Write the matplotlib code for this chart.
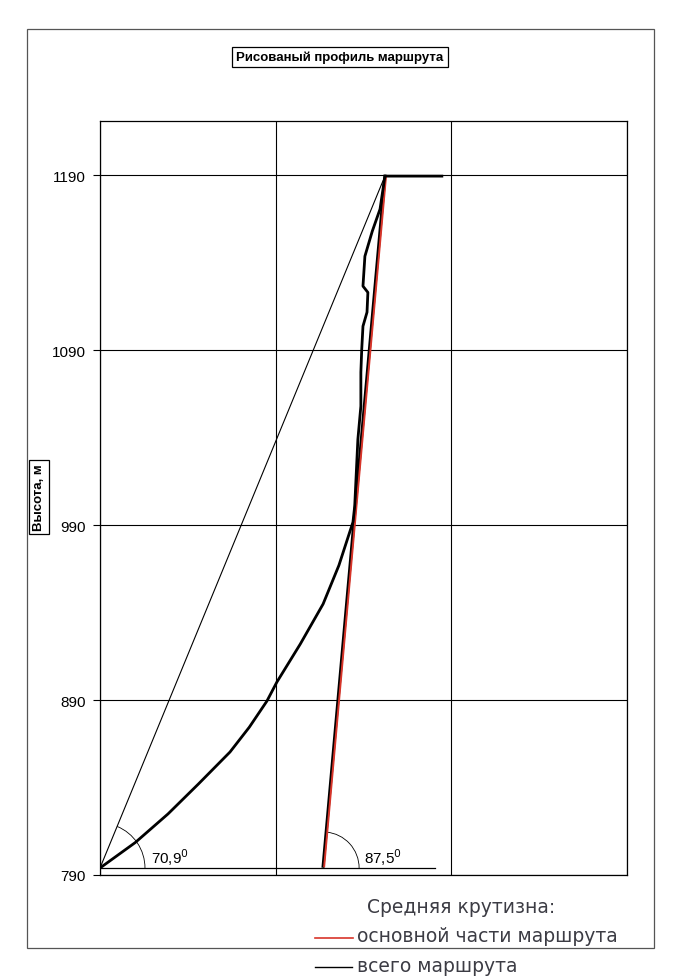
import numpy as np
import matplotlib
matplotlib.use('Agg')
import matplotlib.pyplot as plt
from matplotlib.patches import Arc, Rectangle
from matplotlib import transforms

plt.rcParams['font.family'] = ['Liberation Sans', 'DejaVu Sans']

# профиль маршрута (расстояние, м ; высота, м)
route_x = [0, 20, 38.7, 56, 74, 85, 95, 100.7, 114, 127, 136, 144, 145, 146.8, 148.5,
           148.5, 149, 149.7, 152, 152.5, 149.7, 150.8, 155, 159.4, 162.2, 194.6]
route_y = [794, 808.5, 824.9, 842, 860.3, 874.5, 889.4, 900.3, 922, 944.9, 967, 991.7,
           1000.9, 1039, 1058, 1077.4, 1090.6, 1103.7, 1111.7, 1123, 1126.6, 1143.7,
           1158, 1170.6, 1189.5, 1189.5]

# средняя крутизна
whole_x = [0, 162.2]
whole_y = [794, 1189.5]
main_x = [127, 162.2]
main_y = [795, 1189.5]
base_x = [0, 190.7]
base_y = [794, 794]

angles = ['70,9', '87,5']
yticks = [790, 890, 990, 1090, 1190]

fig = plt.figure(figsize=(6.73, 9.79), dpi=100)
ax = fig.add_axes([100/673, 1-876/979, 527/673, 754/979])

ax.plot(base_x, base_y, color='black', lw=0.9)
ax.plot(whole_x, whole_y, color='black', lw=0.8)
ax.plot(main_x, main_y, color='black', lw=2.2)
red_tr = transforms.offset_copy(ax.transData, fig=fig, x=0.8, y=0, units='points')
ax.plot(main_x, main_y, color='#d8352a', lw=1.4, transform=red_tr)
ax.plot(route_x, route_y, color='black', lw=2.0, solid_joinstyle='round')

# дуги углов
a1 = np.degrees(np.arctan2((whole_y[1]-whole_y[0])*1.75, (whole_x[1]-whole_x[0])*1.757))
a2 = np.degrees(np.arctan2((main_y[1]-main_y[0])*1.75, (main_x[1]-main_x[0])*1.757))
ax.add_patch(Arc((whole_x[0], base_y[0]), 2*25.6, 2*25.7, theta1=0, theta2=a1,
                 color='black', lw=0.6))
ax.add_patch(Arc((main_x[0], base_y[0]), 2*20.5, 2*20.6, theta1=0, theta2=a2,
                 color='black', lw=0.6))
ax.text(29, 797, angles[0] + '$^0$', fontsize=11)
ax.text(150, 797, angles[1] + '$^0$', fontsize=11)

ax.set_xlim(0, 300)
ax.set_ylim(790, 1221)
ax.set_xticks([0, 100, 200, 300])
ax.set_xticklabels([])
ax.tick_params(axis='x', length=0)
ax.set_yticks(yticks)
ax.tick_params(axis='y', labelsize=11, length=5, width=0.8, pad=5)
ax.grid(True, color='black', lw=0.8)
ax.set_axisbelow(True)
for s in ax.spines.values():
    s.set_linewidth(0.9)

# заголовок и подпись оси в рамках
fig.text(340/673, 1-58/979, 'Рисованый профиль маршрута', ha='center', va='center',
         fontsize=9.5, fontweight='bold',
         bbox=dict(boxstyle='square,pad=0.3', fc='white', ec='black', lw=0.9))
fig.text(39/673, 1-498/979, 'Высота, м', ha='center', va='center', rotation=90,
         fontsize=9.5, fontweight='bold',
         bbox=dict(boxstyle='square,pad=0.3', fc='white', ec='black', lw=0.9))

# внешняя рамка
fig.patches.append(Rectangle((27/673, 1-949/979), 627/673, 919/979, transform=fig.transFigure,
                             fill=False, ec='#555555', lw=0.9))

# подписи от руки
ink = '#3c3c44'
fig.text(367/673, 1-908/979, 'Средняя крутизна:', fontsize=13.5, color=ink,
         family='DejaVu Sans', va='center')
fig.text(357/673, 1-937/979, 'основной части маршрута', fontsize=13.5, color=ink,
         family='DejaVu Sans', va='center')
fig.text(357/673, 1-967/979, 'всего маршрута', fontsize=13.5, color=ink,
         family='DejaVu Sans', va='center')
fig.add_artist(plt.Line2D([315/673, 353/673], [1-939/979, 1-939/979], color='#d8352a', lw=1.2))
fig.add_artist(plt.Line2D([315/673, 352/673], [1-968/979, 1-968/979], color='black', lw=1.0))

fig.savefig('out.png', dpi=100)
